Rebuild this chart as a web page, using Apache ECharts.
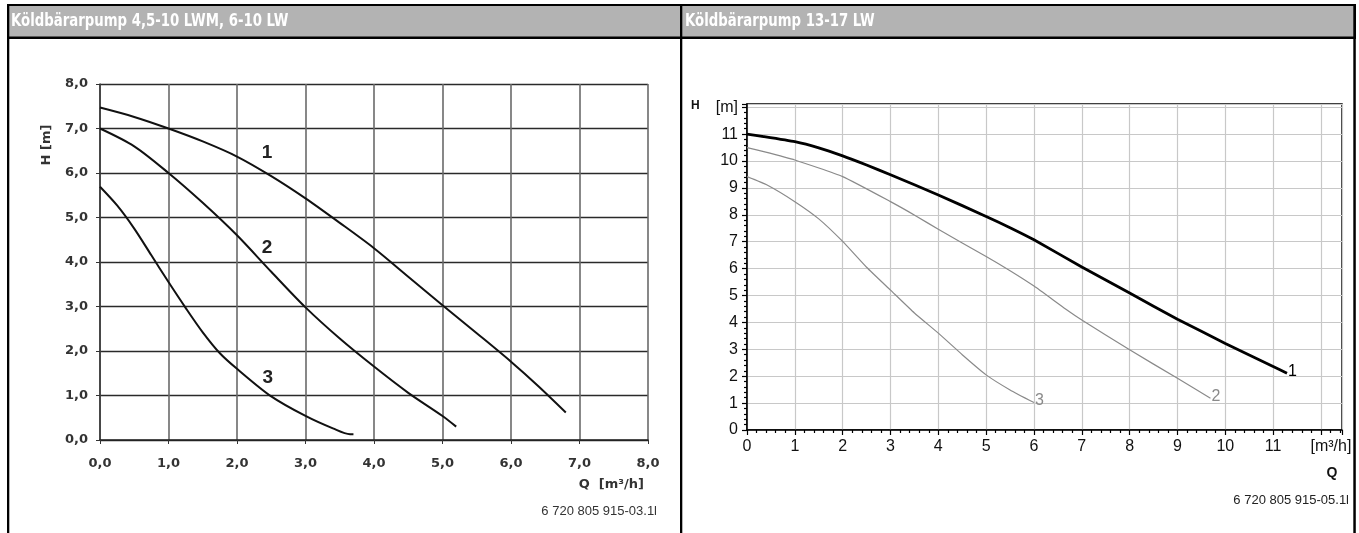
<!DOCTYPE html>
<html>
<head>
<meta charset="utf-8">
<script src="https://cdn.jsdelivr.net/npm/echarts@6/dist/echarts.min.js"></script>
<style>
  html, body { margin: 0; padding: 0; background: #fff; }
  #chart { width: 1359px; height: 533px; }
</style>
</head>
<body>
<div id="chart"></div>
<script>
// left chart: pump curves 4,5-10 LWM / 6-10 LW  (Q in m3/h, H in m)
const q1L = [0, 0.5, 1.0, 1.5, 2.0, 2.5, 3.0, 3.5, 4.0, 4.5, 5.0, 5.5, 6.0, 6.4, 6.8];
const h1L = [7.47, 7.26, 7.0, 6.71, 6.37, 5.93, 5.43, 4.88, 4.31, 3.67, 3.03, 2.4, 1.76, 1.21, 0.62];
const q2L = [0, 0.5, 1.0, 1.5, 2.0, 2.5, 3.0, 3.5, 4.0, 4.5, 5.0, 5.2];
const h2L = [7.0, 6.6, 6.0, 5.33, 4.6, 3.78, 2.98, 2.28, 1.65, 1.06, 0.54, 0.30];
const q3L = [0, 0.25, 0.5, 0.75, 1.0, 1.25, 1.5, 1.75, 2.0, 2.5, 3.0, 3.4, 3.65, 3.70];
const h3L = [5.69, 5.27, 4.75, 4.15, 3.55, 2.97, 2.42, 1.95, 1.6, 0.98, 0.54, 0.26, 0.13, 0.13];
const leftLabels = ['1', '2', '3'];
const leftLabelPos = [[2.44, 6.45], [2.44, 4.31], [2.45, 1.39]];

// right chart: pump curves 13-17 LW
const q1R = [0, 0.35, 1.0, 1.5, 2.0, 2.5, 3.0, 4.0, 5.0, 5.5, 6.0, 7.0, 8.0, 9.0, 10.0, 11.0, 11.29];
const h1R = [11.0, 10.91, 10.72, 10.49, 10.19, 9.85, 9.49, 8.74, 7.94, 7.52, 7.07, 6.06, 5.09, 4.12, 3.22, 2.36, 2.11];
const q2R = [0, 0.35, 1.0, 2.0, 3.0, 3.55, 4.0, 5.0, 5.5, 6.0, 6.66, 7.0, 8.0, 9.0, 9.69];
const h2R = [10.5, 10.35, 10.04, 9.42, 8.49, 7.94, 7.46, 6.45, 5.92, 5.35, 4.5, 4.09, 2.98, 1.92, 1.18];
const q3R = [0, 0.42, 1.0, 1.5, 2.0, 2.5, 3.0, 3.5, 4.0, 4.5, 5.0, 5.5, 6.0];
const h3R = [9.42, 9.11, 8.49, 7.85, 7.01, 6.05, 5.2, 4.35, 3.6, 2.8, 2.05, 1.49, 1.02];

const titleLeft = 'Köldbärarpump 4,5-10 LWM, 6-10 LW';
const titleRight = 'Köldbärarpump 13-17 LW';

const zip = (xs, ys) => xs.map((x, i) => [x, ys[i]]);
const commaFmt = v => v.toFixed(1).replace('.', ',');

const boldLbl = { fontFamily: 'DejaVu Sans', fontWeight: 'bold', fontSize: 13, color: '#333' };
const plainLbl = { fontFamily: 'Liberation Sans', fontSize: 16, color: '#111' };
const headFont = 'bold 18px "DejaVu Sans Condensed", "Liberation Sans", sans-serif';

const leftLine = (data, lbl, pos) => ({
  type: 'line',
  xAxisIndex: 0,
  yAxisIndex: 0,
  data: data,
  symbol: 'none',
  smooth: 0.3,
  lineStyle: { color: '#111', width: 2 },
  markPoint: {
    symbol: 'circle',
    symbolSize: 0,
    data: [{ coord: pos }],
    label: {
      show: true,
      position: 'inside',
      formatter: lbl,
      fontFamily: 'Liberation Sans',
      fontWeight: 'bold',
      fontSize: 19,
      color: '#222'
    }
  }
});

const rightLine = (data, lbl, color, width) => ({
  type: 'line',
  xAxisIndex: 1,
  yAxisIndex: 1,
  data: data,
  symbol: 'none',
  smooth: 0.15,
  lineStyle: { color: color, width: width },
  endLabel: {
    show: true,
    formatter: lbl,
    distance: 1,
    offset: [0, -2],
    fontFamily: 'Liberation Sans',
    fontSize: 16,
    color: color
  }
});

const option = {
  animation: false,
  grid: [
    { left: 100, top: 84, width: 548, height: 356 },
    { left: 747, top: 104, width: 595, height: 326, show: true, borderColor: '#000', borderWidth: 1.5, backgroundColor: 'transparent' }
  ],
  xAxis: [
    {
      gridIndex: 0, type: 'value', min: 0, max: 8, interval: 1,
      axisLine: { lineStyle: { color: '#222', width: 1.5 } },
      axisTick: { show: true, length: 4, lineStyle: { color: '#333' } },
      axisLabel: Object.assign({ margin: 17, formatter: commaFmt }, boldLbl),
      splitLine: { show: true, lineStyle: { color: '#6a6a6a', width: 1.6 } }
    },
    {
      gridIndex: 1, type: 'value', min: 0, max: 12.44, interval: 1,
      axisLine: { lineStyle: { color: '#000', width: 1.5 } },
      axisTick: { show: true, length: 5, lineStyle: { color: '#000', width: 1.2 } },
      minorTick: { show: true, splitNumber: 5, length: 3, lineStyle: { color: '#000', width: 1.2 } },
      axisLabel: Object.assign({
        margin: 9,
        showMaxLabel: false,
        formatter: v => Number.isInteger(v) ? (v === 12 ? '{u|[m³/h]}' : String(v)) : '',
        rich: { u: { fontFamily: 'Liberation Sans', fontSize: 16, color: '#111', padding: [0, 0, 0, 20] } }
      }, plainLbl),
      splitLine: { show: true, lineStyle: { color: '#c8c8c8', width: 1.2 } }
    }
  ],
  yAxis: [
    {
      gridIndex: 0, type: 'value', min: 0, max: 8, interval: 1,
      axisLine: { show: true, lineStyle: { color: '#333', width: 1.5 } },
      axisTick: { show: true, length: 4, lineStyle: { color: '#333' } },
      axisLabel: Object.assign({ margin: 12, formatter: commaFmt }, boldLbl),
      splitLine: { show: true, lineStyle: { color: '#2a2a2a', width: 1.4 } }
    },
    {
      gridIndex: 1, type: 'value', min: 0, max: 12.12, interval: 1,
      axisLine: { show: true, lineStyle: { color: '#000', width: 1.5 } },
      axisTick: { show: true, length: 5, lineStyle: { color: '#000', width: 1.2 } },
      minorTick: { show: true, splitNumber: 5, length: 3, lineStyle: { color: '#000', width: 1.2 } },
      axisLabel: Object.assign({
        margin: 9,
        showMaxLabel: false,
        formatter: v => Number.isInteger(v) ? (v === 12 ? '[m]' : String(v)) : ''
      }, plainLbl),
      splitLine: { show: true, lineStyle: { color: '#c8c8c8', width: 1.2 } }
    }
  ],
  series: [
    leftLine(zip(q1L, h1L), leftLabels[0], leftLabelPos[0]),
    leftLine(zip(q2L, h2L), leftLabels[1], leftLabelPos[1]),
    leftLine(zip(q3L, h3L), leftLabels[2], leftLabelPos[2]),
    rightLine(zip(q3R, h3R), '3', '#8a8a8a', 1.2),
    rightLine(zip(q2R, h2R), '2', '#8a8a8a', 1.2),
    rightLine(zip(q1R, h1R), '1', '#000', 2.8)
  ],
  graphic: [
    // header bands and frame
    { type: 'rect', shape: { x: 7, y: 4, width: 1349, height: 35 }, style: { fill: '#000' }, z: 10 },
    { type: 'rect', shape: { x: 9.3, y: 6, width: 670.7, height: 30.5 }, style: { fill: '#b3b3b3' }, z: 11 },
    { type: 'rect', shape: { x: 682.3, y: 6, width: 671, height: 30.5 }, style: { fill: '#b3b3b3' }, z: 11 },
    { type: 'rect', shape: { x: 7, y: 4, width: 2.3, height: 529 }, style: { fill: '#000' }, z: 10 },
    { type: 'rect', shape: { x: 680, y: 4, width: 2.3, height: 529 }, style: { fill: '#000' }, z: 10 },
    { type: 'rect', shape: { x: 1353.3, y: 4, width: 2.5, height: 529 }, style: { fill: '#000' }, z: 10 },
    { type: 'text', x: 11, y: 21.5, scaleX: 0.82, z: 12, style: { text: titleLeft, fill: '#fff', font: headFont, verticalAlign: 'middle' } },
    { type: 'text', x: 685, y: 21.5, scaleX: 0.82, z: 12, style: { text: titleRight, fill: '#fff', font: headFont, verticalAlign: 'middle' } },
    // left chart texts
    { type: 'text', x: 47, y: 145, rotation: Math.PI / 2, style: { text: 'H [m]', fill: '#333', font: 'bold 13px "DejaVu Sans"', align: 'center', verticalAlign: 'middle' } },
    { type: 'text', x: 644, y: 485, style: { text: 'Q  [m³/h]', fill: '#333', font: 'bold 13px "DejaVu Sans"', align: 'right', verticalAlign: 'middle' } },
    { type: 'text', x: 657, y: 511, style: { text: '6 720 805 915-03.1l', fill: '#333', font: '13px "Liberation Sans"', align: 'right', verticalAlign: 'middle' } },
    // right chart texts
    { type: 'text', x: 691, y: 106, style: { text: 'H', fill: '#111', font: 'bold 12px "Liberation Sans"', align: 'left', verticalAlign: 'middle' } },
    { type: 'text', x: 1332, y: 473, style: { text: 'Q', fill: '#111', font: 'bold 14px "Liberation Sans"', align: 'center', verticalAlign: 'middle' } },
    { type: 'text', x: 1349, y: 500, style: { text: '6 720 805 915-05.1l', fill: '#222', font: '13px "Liberation Sans"', align: 'right', verticalAlign: 'middle' } }
  ]
};

const chart = echarts.init(document.getElementById('chart'), null, { renderer: 'canvas', width: 1359, height: 533 });
chart.setOption(option);
</script>
</body>
</html>
